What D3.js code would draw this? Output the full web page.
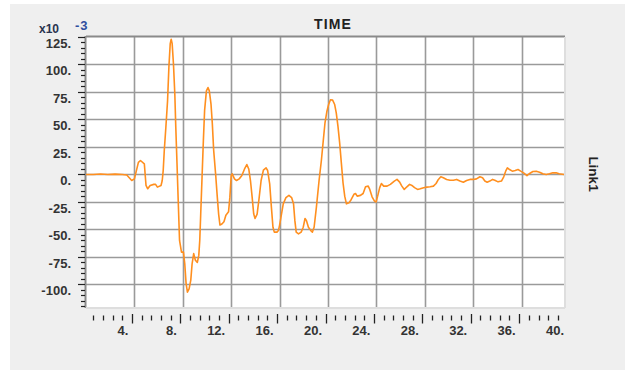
<!DOCTYPE html>
<html>
<head>
<meta charset="utf-8">
<script src="https://cdn.jsdelivr.net/npm/d3@7"></script>
<style>
  html, body { margin: 0; padding: 0; background: #ffffff; }
  svg { display: block; }
  text { font-family: "Liberation Sans", Arial, sans-serif; }
</style>
</head>
<body>
<svg id="chart" width="625" height="370"></svg>
<script>
// Link1 response history (values in units of 1e-3)
const time = [0, 0.6, 1.2, 1.8, 2.4, 3.0, 3.37, 3.78, 4.0, 4.33, 4.5, 4.82, 4.96, 5.1, 5.3, 5.6, 5.75, 5.9, 6.2, 6.3,
  6.38, 6.47, 6.6, 6.74, 6.85, 6.96, 7.04, 7.12, 7.23, 7.34, 7.42, 7.53, 7.62, 7.73, 7.89, 8.05, 8.16, 8.27, 8.38, 8.52,
  8.66, 8.77, 8.9, 9.04, 9.2, 9.32, 9.4, 9.48, 9.59, 9.7, 9.8, 9.95, 10.08, 10.19, 10.33, 10.44, 10.55, 10.71, 10.85, 10.96,
  11.07, 11.23, 11.4, 11.56, 11.78, 11.89, 12.0, 12.08, 12.27, 12.44, 12.66, 12.88, 13.1, 13.29, 13.45, 13.59, 13.73, 13.86, 13.97, 14.14,
  14.3, 14.47, 14.66, 14.88, 15.01, 15.18, 15.32, 15.45, 15.56, 15.78, 15.9, 16.0, 16.14, 16.3, 16.52, 16.77, 16.99, 17.15, 17.26, 17.37,
  17.56, 17.78, 17.95, 18.1, 18.22, 18.38, 18.58, 18.71, 18.85, 19.04, 19.26, 19.45, 19.6, 19.75, 19.9, 20.05, 20.2, 20.38, 20.55, 20.68,
  20.82, 20.96, 21.1, 21.24, 21.38, 21.52, 21.73, 21.92, 22.14, 22.27, 22.41, 22.68, 22.9, 23.1, 23.32, 23.45, 23.64, 23.84, 23.97, 24.1,
  24.27, 24.41, 24.6, 24.88, 25.15, 25.48, 25.7, 25.92, 26.1, 26.3, 26.52, 26.74, 26.93, 27.15, 27.4, 27.62, 27.9, 28.16, 28.44, 28.71,
  28.93, 29.12, 29.32, 29.53, 29.8, 30.08, 30.36, 30.63, 30.9, 31.18, 31.45, 31.73, 32.0, 32.27, 32.55, 32.77, 32.96, 33.15, 33.37, 33.6,
  33.78, 34.05, 34.33, 34.52, 34.68, 34.82, 35.0, 35.23, 35.47, 35.7, 35.92, 36.16, 36.44, 36.66, 36.93, 37.2, 37.48, 37.75, 38.03, 38.3,
  38.58, 38.85, 39.1, 39.5];
const link1 = [0, 0, 0.5, 0, 0.3, 0, -0.5, -5.5, -4, 11, 12.7, 9.7, -10, -13, -10, -9, -9, -11.5, -10, -5.5,
  3.6, 22, 43, 67, 97.6, 119, 123, 119, 100, 73, 43, 6.7, -23.6, -60, -70.6, -70.6, -81, -99, -107, -104,
  -96, -81, -72, -78, -80, -73.6, -60, -36, -2.4, 31, 58, 76, 79, 76, 64, 46, 22, 0.6, -20.6, -36,
  -46, -45, -43, -37, -34, -20.6, -1, 0.6, -4, -5.5, -4, -1, 5, 9, 5, -5.5, -20.6, -36, -40, -36,
  -22, -5.5, 4, 6, 3.6, -8.5, -29.7, -48, -52.4, -52.4, -51, -46, -37, -26.7, -21, -19, -21, -26.7, -42, -52.4,
  -54, -52.4, -48, -40, -42, -48, -51, -52.4, -48, -29.7, -5.5, 12.7, 30, 47, 57, 63.6, 68, 67.6, 63.6, 56,
  44, 29, 10.6, -7.6, -19.7, -26.7, -25.8, -22.7, -18, -17.3, -19.7, -19, -17.3, -11.2, -10.6, -13.6, -20.3, -24.2, -25, -19.7,
  -12, -8.2, -10.6, -10.6, -9, -6, -4.5, -7, -10.6, -13.6, -11.2, -9, -10, -12, -13.6, -13, -12, -11.5, -11.2, -10.6,
  -8.2, -4.5, -2.1, -3, -4.5, -5.2, -5.2, -4.5, -6, -7, -5.5, -4.5, -4.5, -4, -2.1, -3, -6, -7, -6, -4.5,
  -5.2, -6.7, -6, -2.1, 3, 6, 4.5, 3, 3.6, 4.5, 3, 1.5, -1, 0.9, 2.7, 3, 2.1, 0.6, 0, 0.6,
  1.5, 1.5, 0.6, 0];

const xTickLabels = [4, 8, 12, 16, 20, 24, 28, 32, 36, 40];
const yTickLabels = [125, 100, 75, 50, 25, 0, -25, -50, -75, -100];
const xGridValues = [4, 8, 12, 16, 20, 24, 28, 32, 36];
const yGridValues = [100, 75, 50, 25, 0, -25, -50, -75, -100];

const svg = d3.select("#chart");

// panel background
svg.append("rect").attr("x", 10).attr("y", 4).attr("width", 615).attr("height", 366).attr("fill", "#efefef");

const plotL = 86, plotR = 564, plotT = 37, plotB = 307;
const x = d3.scaleLinear().domain([0, 39.5]).range([plotL, plotR]);
const y = d3.scaleLinear().domain([-120.5, 125]).range([plotB, plotT]);

// plot area
svg.append("rect").attr("x", plotL).attr("y", plotT).attr("width", plotR - plotL).attr("height", plotB - plotT)
  .attr("fill", "#ffffff");

const grid = svg.append("g").attr("stroke", "#9a9a9a").attr("stroke-width", 1.6);
grid.selectAll("line.v").data(xGridValues).join("line").attr("class", "v")
  .attr("x1", d => Math.round(x(d)) + 0.5).attr("x2", d => Math.round(x(d)) + 0.5)
  .attr("y1", plotT).attr("y2", plotB);
grid.selectAll("line.h").data(yGridValues).join("line").attr("class", "h")
  .attr("y1", d => Math.round(y(d)) + 0.5).attr("y2", d => Math.round(y(d)) + 0.5)
  .attr("x1", plotL).attr("x2", plotR);

// frame: dark top/left, light right/bottom
svg.append("line").attr("x1", plotL).attr("x2", plotR + 1).attr("y1", plotT - 0.5).attr("y2", plotT - 0.5)
  .attr("stroke", "#8a8a8a").attr("stroke-width", 2.2);
svg.append("line").attr("x1", plotL - 0.5).attr("x2", plotL - 0.5).attr("y1", plotT - 1).attr("y2", plotB + 1)
  .attr("stroke", "#8a8a8a").attr("stroke-width", 2);
svg.append("line").attr("x1", plotR + 1).attr("x2", plotR + 1).attr("y1", plotT).attr("y2", plotB + 1)
  .attr("stroke", "#dedede").attr("stroke-width", 2);
svg.append("line").attr("x1", plotL).attr("x2", plotR + 1).attr("y1", plotB + 1).attr("y2", plotB + 1)
  .attr("stroke", "#dedede").attr("stroke-width", 2);

// data line
const line = d3.line().x((d, i) => x(time[i])).y(d => y(d));
svg.append("path").datum(link1).attr("d", line)
  .attr("fill", "none").attr("stroke", "#ff8f1f").attr("stroke-width", 1.6)
  .attr("stroke-linejoin", "round");

// y axis: ticks every 5, long ticks every 25
const yTicks = d3.range(-120, 126, 5);
svg.append("g").selectAll("line").data(yTicks).join("line")
  .attr("x1", d => d % 25 === 0 ? 78 : 81).attr("x2", plotL - 1)
  .attr("y1", d => Math.round(y(d)) + 0.5).attr("y2", d => Math.round(y(d)) + 0.5)
  .attr("stroke", "#222").attr("stroke-width", 1.2);
svg.append("g").selectAll("text").data(yTickLabels).join("text")
  .attr("x", 71).attr("y", d => y(d) + 10.8)
  .attr("text-anchor", "end").attr("font-size", 13).attr("font-weight", "bold").attr("fill", "#333")
  .text(d => d + ".");

// x axis: ticks every 0.8, long ticks every 4
const xTicks = d3.range(1, 50).map(i => i * 0.8);
svg.append("g").selectAll("line").data(xTicks).join("line")
  .attr("x1", d => Math.round(x(d) - 2.5) + 0.5).attr("x2", d => Math.round(x(d) - 2.5) + 0.5)
  .attr("y1", (d, i) => (i + 1) % 5 === 0 ? 314 : 315.5).attr("y2", (d, i) => (i + 1) % 5 === 0 ? 323.5 : 320.5)
  .attr("stroke", "#222").attr("stroke-width", 1.3);
svg.append("g").selectAll("text").data(xTickLabels).join("text")
  .attr("x", d => x(d) - 6).attr("y", 334.5)
  .attr("text-anchor", "end").attr("font-size", 13).attr("font-weight", "bold").attr("fill", "#333")
  .text(d => d + ".");

// exponent marker
svg.append("text").attr("x", 39).attr("y", 33).attr("font-size", 12).attr("font-weight", "bold")
  .attr("fill", "#2a3550").text("x10");
svg.append("text").attr("x", 75).attr("y", 29.5).attr("font-size", 13).attr("font-weight", "bold")
  .attr("letter-spacing", 1).attr("fill", "#2f4f9f").text("-3");

// title and series label
svg.append("text").attr("x", 333).attr("y", 28.5).attr("text-anchor", "middle")
  .attr("font-size", 14).attr("font-weight", "bold").attr("fill", "#222")
  .attr("letter-spacing", 1.2).text("TIME");
svg.append("text").attr("transform", "translate(589,174) rotate(90)")
  .attr("text-anchor", "middle").attr("font-size", 13.5).attr("font-weight", "bold").attr("fill", "#222")
  .text("Link1");
</script>
</body>
</html>
